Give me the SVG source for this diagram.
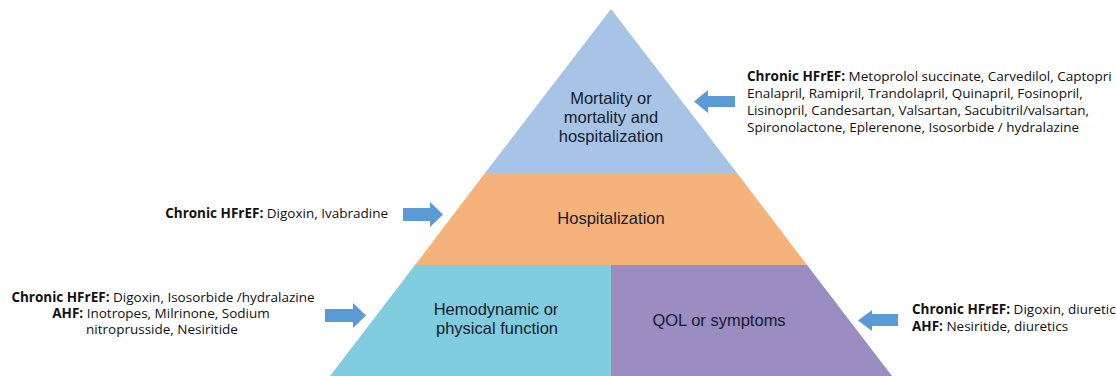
<svg xmlns="http://www.w3.org/2000/svg" width="1116" height="376" viewBox="0 0 1116 376">
  <style>
    .lbl { font-family: "Liberation Sans", Arial, sans-serif; font-size: 16.5px; fill: #161b2b; text-anchor: middle; }
    .note { font-family: "Open Sans", "Liberation Sans", sans-serif; font-size: 13.5px; fill: #111111; }
    .b { font-weight: 700; }
    .arrow { fill: #5b9bd5; }
  </style>
  <rect width="1116" height="376" fill="#ffffff"/>

  <g id="tier-mortality">
    <polygon points="611,9 737,173 485,173" fill="#a7c4e6"/>
    <text class="lbl" x="611" y="104">Mortality or<tspan x="611" dy="19">mortality and</tspan><tspan x="611" dy="19">hospitalization</tspan></text>
  </g>

  <g id="tier-hospitalization">
    <polygon points="485,173 737,173 807,265 415,265" fill="#f5b27a"/>
    <text class="lbl" x="611" y="224">Hospitalization</text>
  </g>

  <g id="tier-hemodynamic">
    <polygon points="415,265 611,265 611,376 330,376" fill="#80cddf"/>
    <text class="lbl" x="496" y="315">Hemodynamic or<tspan x="497" dy="19">physical function</tspan></text>
  </g>

  <g id="tier-qol">
    <polygon points="611,265 807,265 892,376 611,376" fill="#9b8cc2"/>
    <text class="lbl" x="719" y="326">QOL or symptoms</text>
  </g>

  <g id="note-mortality">
    <text class="note" x="747" y="81"><tspan class="b">Chronic HFrEF:</tspan> Metoprolol succinate, Carvedilol, Captopri<tspan x="747" dy="17">Enalapril, Ramipril, Trandolapril, Quinapril, Fosinopril,</tspan><tspan x="747" dy="17">Lisinopril, Candesartan, Valsartan, Sacubitril/valsartan,</tspan><tspan x="747" dy="17">Spironolactone, Eplerenone, Isosorbide / hydralazine</tspan></text>
  </g>

  <g id="note-hospitalization">
    <text class="note" x="388" y="218" text-anchor="end"><tspan class="b">Chronic HFrEF:</tspan> Digoxin, Ivabradine</text>
  </g>

  <g id="note-hemodynamic">
    <text class="note" x="163" y="302" text-anchor="middle"><tspan class="b">Chronic HFrEF:</tspan> Digoxin, Isosorbide /hydralazine<tspan x="161" dy="16" class="b">AHF:</tspan> Inotropes, Milrinone, Sodium<tspan x="162" dy="16">nitroprusside, Nesiritide</tspan></text>
  </g>

  <g id="note-qol">
    <text class="note" x="912" y="314"><tspan class="b">Chronic HFrEF:</tspan> Digoxin, diuretic<tspan x="912" dy="17" class="b">AHF:</tspan> Nesiritide, diuretics</text>
  </g>

  <g id="connectors">
    <polygon class="arrow" points="694,101.5 708,90 708,96 735,96 735,107 708,107 708,113"/>
    <polygon class="arrow" points="443,214.5 430,202 430,208 403,208 403,221 430,221 430,227"/>
    <polygon class="arrow" points="366,315.5 353,303 353,309 325,309 325,322 353,322 353,328"/>
    <polygon class="arrow" points="858,320.5 872,310 872,314 898,314 898,326 872,326 872,331"/>
  </g>
</svg>
